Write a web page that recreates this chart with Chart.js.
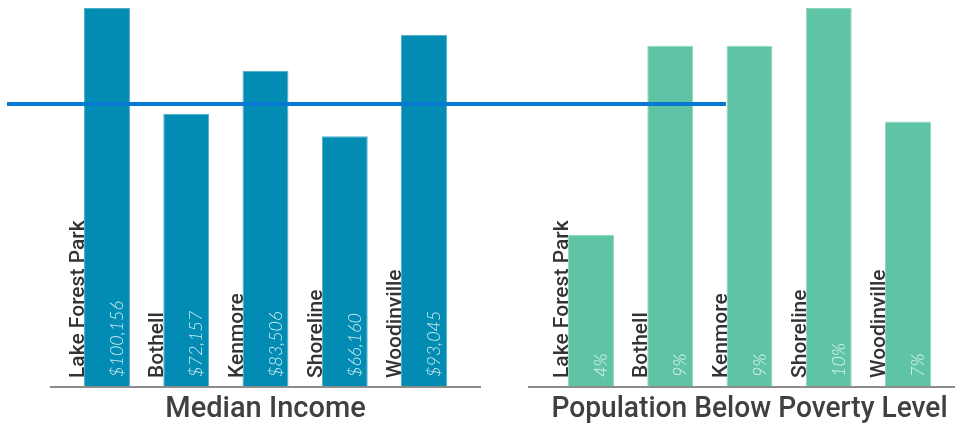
<!DOCTYPE html>
<html><head><meta charset="utf-8">
<script src="https://cdn.jsdelivr.net/npm/chart.js@4.4.0/dist/chart.umd.min.js"></script>
<style>
html,body{margin:0;padding:0;background:#fff;}
#wrap{position:relative;width:955px;height:426px;overflow:hidden;background:#fff;}
#c1{position:absolute;left:0;top:0;z-index:2;}
#c2{position:absolute;left:484px;top:0;z-index:1;}
</style></head><body>
<div id="wrap">
<canvas id="c2" width="471" height="426"></canvas>
<canvas id="c1" width="955" height="426"></canvas>
</div>
<script>
// ---- data ----
const cities = ['Lake Forest Park', 'Bothell', 'Kenmore', 'Shoreline', 'Woodinville'];
const medianIncome = [100156, 72157, 83506, 66160, 93045];
const povertyRate = [4, 9, 9, 10, 7];
const referenceIncome = 74700;
const titleIncome = 'Median Income';
const titlePoverty = 'Population Below Poverty Level';

const fmtIncome = v => '$' + v.toLocaleString('en-US');
const fmtPct = v => v + '%';

const LABEL_FONT = 'Roboto, "Noto Sans", sans-serif';
const VALUE_FONT = 'Lato, "Noto Sans", sans-serif';

const barLabels = {
  id: 'barLabels',
  afterDatasetsDraw(chart, args, opts) {
    const {ctx, chartArea} = chart;
    const meta = chart.getDatasetMeta(0);
    const ds = chart.data.datasets[0];
    // baseline
    ctx.save();
    ctx.strokeStyle = '#8c8c8c';
    ctx.lineWidth = 2;
    ctx.beginPath();
    ctx.moveTo(chartArea.left - opts.axisBefore, chartArea.bottom + 1);
    ctx.lineTo(chartArea.right + opts.axisAfter, chartArea.bottom + 1);
    ctx.stroke();
    ctx.restore();
    meta.data.forEach((bar, i) => {
      const left = bar.x - bar.width / 2;
      const base = bar.base;
      // category name
      ctx.save();
      ctx.translate(left, base - 8);
      ctx.rotate(-Math.PI / 2);
      ctx.font = '500 21px ' + LABEL_FONT;
      ctx.fillStyle = '#333333';
      ctx.textAlign = 'left';
      ctx.textBaseline = 'alphabetic';
      ctx.fillText(chart.data.labels[i], 0, 0);
      ctx.restore();
      // value
      ctx.save();
      ctx.translate(bar.x + 16, base - 9);
      ctx.rotate(-Math.PI / 2);
      ctx.font = 'italic 300 18px ' + VALUE_FONT;
      ctx.fillStyle = opts.valueColor;
      ctx.textAlign = 'left';
      ctx.textBaseline = 'alphabetic';
      ctx.fillText(opts.format(ds.data[i]), 0, 0);
      ctx.restore();
    });
    if (opts.refValue !== undefined) {
      const y = chart.scales.y.getPixelForValue(opts.refValue);
      ctx.save();
      ctx.strokeStyle = '#0879d3';
      ctx.lineWidth = 4;
      ctx.beginPath();
      ctx.moveTo(opts.refFrom, y);
      ctx.lineTo(opts.refTo, y);
      ctx.stroke();
      ctx.restore();
    }
  }
};

function makeChart(id, values, fill, border, valueColor, title, padRight, pluginOpts) {
  return new Chart(document.getElementById(id), {
    type: 'bar',
    data: {
      labels: cities,
      datasets: [{
        data: values,
        backgroundColor: fill,
        borderColor: border,
        borderWidth: 1,
        barPercentage: 0.58,
        categoryPercentage: 1
      }]
    },
    options: {
      responsive: false,
      animation: false,
      devicePixelRatio: 1,
      layout: {padding: {left: 67.375, right: padRight, top: 8, bottom: 0}},
      plugins: {
        legend: {display: false},
        tooltip: {enabled: false},
        barLabels: Object.assign({valueColor}, pluginOpts)
      },
      scales: {
        x: {
          grid: {display: false, drawTicks: false},
          border: {display: false},
          ticks: {display: false},
          title: {
            display: true,
            text: title,
            color: '#404040',
            font: {family: LABEL_FONT, size: 29, weight: '500', lineHeight: 1.2},
            padding: {top: 6.8, bottom: -1.6}
          }
        },
        y: {
          display: false,
          min: 0,
          max: Math.max(...values)
        }
      }
    },
    plugins: [barLabels]
  });
}

makeChart('c2', povertyRate, '#5fc4a5', '#8fd6bf', '#e3f6ee', titlePoverty, 7.375,
  {format: fmtPct, axisBefore: 23.4, axisAfter: 12});
makeChart('c1', medianIncome, '#038cb3', '#4fb0cc', '#cdebf3', titleIncome, 491.375,
  {format: fmtIncome, axisBefore: 17.4, axisAfter: 17.4, refValue: referenceIncome, refFrom: 7, refTo: 726});
</script>
</body></html>
